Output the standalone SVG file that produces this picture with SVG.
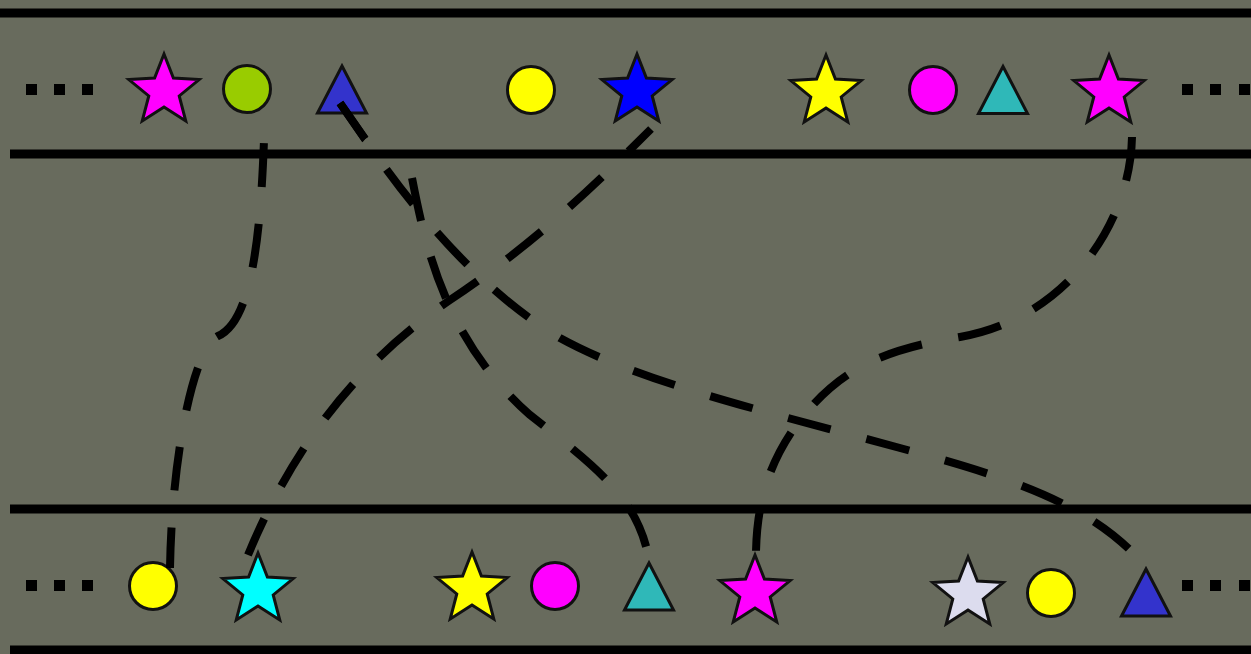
<svg xmlns="http://www.w3.org/2000/svg" xmlns:xlink="http://www.w3.org/1999/xlink" width="1251" height="654" viewBox="0 0 1251 654">
<style>
.rail{stroke:#000;stroke-width:9;fill:none}
.dot{fill:#000}
.sh{stroke:#111;stroke-width:3;stroke-linejoin:miter}
.con{fill:none;stroke:#000;stroke-width:8;stroke-linecap:butt;stroke-dasharray:44 37}
</style>
<defs>
<polygon id="star" points="0,-37 9.4,-12.94 35.19,-11.43 15.22,4.94 21.75,29.93 0,16 -21.75,29.93 -15.22,4.94 -35.19,-11.43 -9.4,-12.94"/>
<polygon id="tri" points="0,-23.5 24.5,23.5 -24.5,23.5"/>
</defs>
<rect width="1251" height="654" fill="#686b5d"/>
<g id="rails">
<line class="rail" x1="0" y1="13" x2="1251" y2="13"/>
<line class="rail" x1="10" y1="154" x2="1251" y2="154"/>
<line class="rail" x1="10" y1="509" x2="1251" y2="509"/>
<line class="rail" x1="10" y1="650" x2="1251" y2="650"/>
</g>
<g id="ellipsis">
<rect class="dot" x="26" y="84" width="11" height="11"/><rect class="dot" x="54" y="84" width="11" height="11"/><rect class="dot" x="82" y="84" width="11" height="11"/>
<rect class="dot" x="1182" y="84" width="11" height="11"/><rect class="dot" x="1210" y="84" width="11" height="11"/><rect class="dot" x="1239" y="84" width="11" height="11"/>
<rect class="dot" x="26" y="580" width="11" height="11"/><rect class="dot" x="54" y="580" width="11" height="11"/><rect class="dot" x="82" y="580" width="11" height="11"/>
<rect class="dot" x="1182" y="580" width="11" height="11"/><rect class="dot" x="1210" y="580" width="11" height="11"/><rect class="dot" x="1239" y="580" width="11" height="11"/>
</g>
<g id="top-star-1"><use xlink:href="#star" class="sh" fill="#ff00ff" transform="translate(164,91)"/></g>
<g id="top-circle-1"><circle class="sh" cx="247" cy="89" r="23.5" fill="#99cc00"/></g>
<g id="top-tri-1"><use xlink:href="#tri" class="sh" fill="#3333cc" transform="translate(342,89.5)"/></g>
<g id="top-circle-2"><circle class="sh" cx="531" cy="90" r="23.5" fill="#ffff00"/></g>
<g id="top-star-2"><use xlink:href="#star" class="sh" fill="#0000ff" transform="translate(637,91)"/></g>
<g id="top-star-3"><use xlink:href="#star" class="sh" fill="#ffff00" transform="translate(826,92)"/></g>
<g id="top-circle-3"><circle class="sh" cx="933" cy="90" r="23.5" fill="#ff00ff"/></g>
<g id="top-tri-2"><use xlink:href="#tri" class="sh" fill="#2fb8b8" transform="translate(1003,90)"/></g>
<g id="top-star-4"><use xlink:href="#star" class="sh" fill="#ff00ff" transform="translate(1109,92)"/></g>
<g id="bot-circle-1"><circle class="sh" cx="153" cy="586" r="23.5" fill="#ffff00"/></g>
<g id="bot-star-1"><use xlink:href="#star" class="sh" fill="#00ffff" transform="translate(258,590)"/></g>
<g id="bot-star-2"><use xlink:href="#star" class="sh" fill="#ffff00" transform="translate(472,589)"/></g>
<g id="bot-circle-2"><circle class="sh" cx="555" cy="586" r="23.5" fill="#ff00ff"/></g>
<g id="bot-tri-1"><use xlink:href="#tri" class="sh" fill="#2fb8b8" transform="translate(649,586.5)"/></g>
<g id="bot-star-3"><use xlink:href="#star" class="sh" fill="#ff00ff" transform="translate(755,592)"/></g>
<g id="bot-star-4"><use xlink:href="#star" class="sh" fill="#dcdcee" transform="translate(968,594)"/></g>
<g id="bot-circle-3"><circle class="sh" cx="1051" cy="593" r="23.5" fill="#ffff00"/></g>
<g id="bot-tri-2"><use xlink:href="#tri" class="sh" fill="#3333cc" transform="translate(1146,592.5)"/></g>
<g id="connectors">
<path class="con" style="stroke-dashoffset:46" d="M265 108 C262 220 255 320 218 336 C195 346 172 450 170 568"/>
<path class="con" d="M340 103 L365 139 C400 190 470 285 560 338 C640 382 760 410 900 448 C1000 475 1080 500 1132 552"/>
<path class="con" style="stroke-dasharray:44 61 44 37 44 37 44 37 44 37 44 37 44 37 44 37 44 37" d="M340 103 L365 139 L412 178 C425 245 445 340 530 415 C600 470 640 500 650 565"/>
<path class="con" style="stroke-dashoffset:12" d="M651 129 C604 176 540 240 450 300 C370 355 300 430 248 555"/>
<path class="con" d="M1132 137 C1130 230 1060 320 960 337 C880 350 840 370 800 420 C770 460 757 500 756 552"/>
</g>
</svg>
